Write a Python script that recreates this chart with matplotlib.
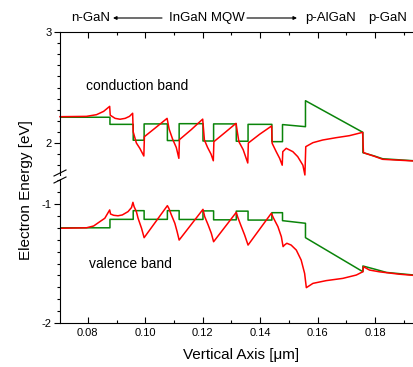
import matplotlib
matplotlib.use("Agg")
import matplotlib.pyplot as plt
from matplotlib.ticker import MultipleLocator
from matplotlib.lines import Line2D

plt.rcParams['font.family'] = ['Liberation Sans', 'DejaVu Sans']
plt.rcParams['axes.unicode_minus'] = False

# --- conduction band (flat-band / green, real / red) ---
cb_green_x = [0.0703, 0.0877, 0.0877, 0.0958, 0.0958, 0.0996, 0.0996, 0.1077, 0.1077, 0.1118,
              0.1118, 0.1201, 0.1201, 0.1238, 0.1238, 0.1317, 0.1317, 0.1358, 0.1358, 0.1441,
              0.1441, 0.1478, 0.1478, 0.1558, 0.1558, 0.1758, 0.1758, 0.1798, 0.1827, 0.1936]
cb_green_y = [2.232, 2.232, 2.168, 2.168, 2.025, 2.025, 2.172, 2.172, 2.022, 2.022,
              2.174, 2.174, 2.018, 2.018, 2.172, 2.172, 2.016, 2.016, 2.168, 2.168,
              2.012, 2.012, 2.166, 2.147, 2.381, 2.096, 1.913, 1.883, 1.858, 1.840]

cb_red_x = [0.0703, 0.0795, 0.0830, 0.0855, 0.0876,
            0.0878, 0.0895, 0.0912, 0.0930, 0.0945, 0.0956,
            0.0958, 0.0969, 0.0981, 0.0995,
            0.0997, 0.1037, 0.1076,
            0.1083, 0.1095, 0.1108, 0.1117,
            0.1119, 0.1160, 0.1200,
            0.1206, 0.1217, 0.1229, 0.1237,
            0.1239, 0.1278, 0.1316,
            0.1326, 0.1341, 0.1357,
            0.1359, 0.1399, 0.1440,
            0.1442, 0.1456, 0.1468, 0.1477,
            0.1479, 0.1491, 0.1514, 0.1531, 0.1549, 0.1556,
            0.1559, 0.1584, 0.1618, 0.1665, 0.1711, 0.1757,
            0.1760, 0.1798, 0.1827, 0.1936]
cb_red_y = [2.237, 2.240, 2.255, 2.285, 2.330,
            2.250, 2.222, 2.214, 2.222, 2.240, 2.268,
            2.100, 2.000, 1.952, 1.883,
            2.057, 2.140, 2.222,
            2.126, 2.036, 1.960, 1.862,
            2.030, 2.120, 2.215,
            2.027, 1.960, 1.900, 1.840,
            2.012, 2.095, 2.177,
            2.012, 1.940, 1.820,
            2.000, 2.080, 2.153,
            1.997, 1.922, 1.862, 1.800,
            1.922, 1.952, 1.922, 1.877, 1.800, 1.712,
            1.967, 2.003, 2.027, 2.048, 2.066, 2.096,
            1.913, 1.880, 1.853, 1.838]

# --- valence band ---
vb_green_x = [0.0703, 0.0877, 0.0877, 0.0958, 0.0958, 0.0996, 0.0996, 0.1077, 0.1077, 0.1118,
              0.1118, 0.1201, 0.1201, 0.1238, 0.1238, 0.1317, 0.1317, 0.1358, 0.1358, 0.1441,
              0.1441, 0.1478, 0.1478, 0.1558, 0.1558, 0.1758, 0.1758, 0.1800, 0.1840, 0.1936]
vb_green_y = [-1.200, -1.200, -1.129, -1.129, -1.056, -1.056, -1.129, -1.129, -1.056, -1.056,
              -1.130, -1.130, -1.058, -1.058, -1.133, -1.133, -1.060, -1.060, -1.135, -1.135,
              -1.073, -1.073, -1.140, -1.162, -1.283, -1.569, -1.521, -1.548, -1.575, -1.597]

vb_red_x = [0.0703, 0.0795, 0.0820, 0.0842, 0.0859, 0.0876,
            0.0879, 0.0890, 0.0905, 0.0920, 0.0940, 0.0952, 0.0957,
            0.0961, 0.0969, 0.0975, 0.0987, 0.0996,
            0.1077,
            0.1082, 0.1091, 0.1103, 0.1111, 0.1118,
            0.1201,
            0.1207, 0.1219, 0.1230, 0.1238,
            0.1317,
            0.1322, 0.1333, 0.1346, 0.1358,
            0.1439,
            0.1447, 0.1462, 0.1474, 0.1480,
            0.1485, 0.1493, 0.1508, 0.1526, 0.1543, 0.1555, 0.1561,
            0.1584, 0.1630, 0.1688, 0.1735, 0.1758,
            0.1760, 0.1781, 0.1816, 0.1885, 0.1936]
vb_red_y = [-1.204, -1.200, -1.185, -1.148, -1.120, -1.050,
            -1.084, -1.095, -1.099, -1.092, -1.064, -1.030, -0.986,
            -1.022, -1.064, -1.120, -1.204, -1.283,
            -1.014,
            -1.036, -1.092, -1.162, -1.233, -1.303,
            -1.045,
            -1.106, -1.176, -1.246, -1.317,
            -1.070,
            -1.110, -1.180, -1.260, -1.345,
            -1.078,
            -1.120, -1.190, -1.275, -1.358,
            -1.345, -1.330, -1.345, -1.387, -1.471, -1.583, -1.703,
            -1.667, -1.644, -1.625, -1.597, -1.569,
            -1.527, -1.555, -1.570, -1.590, -1.600]

W, H = 414, 367
fig = plt.figure(figsize=(W / 100, H / 100), dpi=100)

def fx(px):
    return px / W

def fy(py):
    return 1 - py / H

# 위쪽 패널 (conduction band), 아래쪽 패널 (valence band)
ax_top = fig.add_axes([fx(60), fy(175), fx(354), (175 - 32) / H])
ax_bot = fig.add_axes([fx(60), fy(323), fx(354), (323 - 179) / H])

red = '#ff0000'
green = '#0a840a'
ax_top.plot(cb_green_x, cb_green_y, color=green, lw=1.1)
ax_top.plot(cb_red_x, cb_red_y, color=red, lw=1.1, clip_on=False)
ax_bot.plot(vb_green_x, vb_green_y, color=green, lw=1.1)
ax_bot.plot(vb_red_x, vb_red_y, color=red, lw=1.1)

xmin, xmax = 0.0703, 0.1936
ax_top.set_xlim(xmin, xmax)
ax_bot.set_xlim(xmin, xmax)
ax_top.set_ylim(2 - 32 / 111, 3.0)
ax_bot.set_ylim(-2.0, -1 + 25 / 119)

for ax in (ax_top, ax_bot):
    ax.spines['right'].set_visible(False)
    ax.xaxis.set_major_locator(MultipleLocator(0.02))
    ax.xaxis.set_minor_locator(MultipleLocator(0.01))
    ax.yaxis.set_major_locator(MultipleLocator(1))
    ax.yaxis.set_minor_locator(MultipleLocator(0.1))
    ax.tick_params(axis='y', which='major', direction='out', length=4, width=0.8, labelsize=8, pad=2)
    ax.tick_params(axis='y', which='minor', direction='out', length=2.5, width=0.8)
    ax.tick_params(axis='x', which='major', direction='in', length=4, width=0.8, labelsize=8)
    ax.tick_params(axis='x', which='minor', direction='in', length=2.5, width=0.8)
    for s in ax.spines.values():
        s.set_linewidth(0.8)

ax_top.spines['bottom'].set_visible(False)
ax_top.tick_params(axis='x', which='both', top=True, bottom=False, labelbottom=False, labeltop=False)
ax_bot.spines['top'].set_visible(False)
ax_bot.xaxis.set_major_formatter(plt.FuncFormatter(lambda v, p: f"{v:.2f}"))

ax_top.set_yticks([2, 3])
ax_bot.set_yticks([-2, -1])

# break marks on the y axis
for py in (173, 180):
    fig.add_artist(Line2D([fx(54), fx(66)], [fy(py + 3), fy(py - 3)], color='k', lw=0.8))

ax_top.text(0.097, 2.514, 'conduction band', ha='center', va='center', fontsize=10)
ax_bot.text(0.095, -1.504, 'valence band', ha='center', va='center', fontsize=10)

# layer labels on top
ty = fy(18)
fs = 9.5
fig.text(fx(91), ty, 'n-GaN', ha='center', va='center', fontsize=fs)
fig.text(fx(207), ty, 'InGaN MQW', ha='center', va='center', fontsize=fs)
fig.text(fx(331), ty, 'p-AlGaN', ha='center', va='center', fontsize=fs)
fig.text(fx(388), ty, 'p-GaN', ha='center', va='center', fontsize=fs)
arrow = dict(arrowstyle='-|>', lw=0.8, color='k', mutation_scale=5, shrinkA=0, shrinkB=0)
ax_top.annotate('', xy=(fx(113), ty), xytext=(fx(162), ty), xycoords='figure fraction', arrowprops=arrow)
ax_top.annotate('', xy=(fx(297), ty), xytext=(fx(247), ty), xycoords='figure fraction', arrowprops=arrow)

fig.text(fx(241), fy(355), 'Vertical Axis [\u03bcm]', ha='center', va='center', fontsize=11)
fig.text(fx(26), fy(190), 'Electron Energy [eV]', ha='center', va='center', rotation=90, fontsize=11)

fig.savefig('out.png', dpi=100)
